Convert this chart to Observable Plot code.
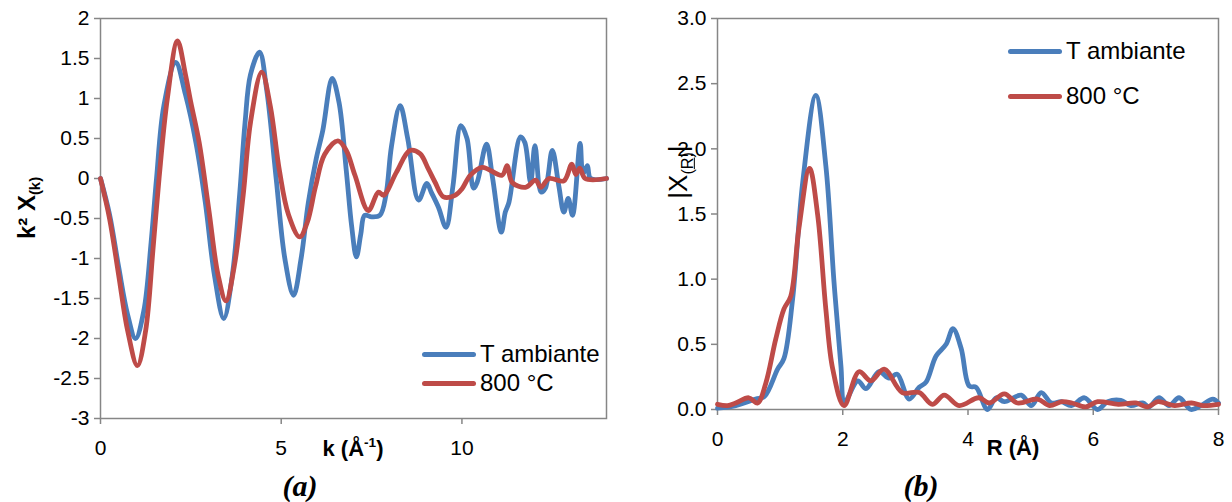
<!DOCTYPE html>
<html>
<head>
<meta charset="utf-8">
<script src="https://cdn.jsdelivr.net/npm/d3@7"></script>
<script src="https://cdn.jsdelivr.net/npm/@observablehq/plot@0.6"></script>
<style>
  html, body { margin: 0; padding: 0; background: #fff; }
  #wrap { position: relative; width: 1232px; height: 502px; overflow: hidden; font-family: "Liberation Sans", Arial, sans-serif; }
  .panel { position: absolute; top: 0; }
  .lbl { position: absolute; white-space: nowrap; color: #000; line-height: 1; }
  .rot { transform: translate(-50%, -50%) rotate(-90deg); }
  .ctr { transform: translate(-50%, -50%); }
  .cap { font-family: "Liberation Serif", "Times New Roman", serif; font-weight: bold; font-style: italic; font-size: 30px; }
  .leg { position: absolute; display: flex; align-items: center; font-size: 24px; height: 24px; white-space: nowrap; }
  .sw { display: inline-block; width: 54px; height: 5px; border-radius: 3px; margin-right: 4px; }
  sub, sup { font-size: 62%; }
</style>
</head>
<body>
<div id="wrap"></div>
<script>
// ---------- data ----------
const seriesNames = ["T ambiante", "800 °C"];
const seriesColors = ["#4a7ebb", "#be4b48"];

// (a) k² χ(k) vs k
const kT = [0,0.25,0.5,0.75,0.97,1.2,1.4,1.55,1.75,2.08,2.35,2.64,2.9,3.15,3.41,3.65,3.85,4.0,4.15,4.4,4.6,4.86,5.1,5.34,5.55,5.75,5.97,6.15,6.41,6.6,6.8,6.95,7.08,7.2,7.31,7.5,7.73,7.9,8.05,8.29,8.5,8.8,9.03,9.15,9.35,9.56,9.75,9.97,10.14,10.32,10.42,10.68,10.85,11.09,11.2,11.3,11.62,11.74,11.9,12.02,12.19,12.31,12.5,12.68,12.82,12.94,13.06,13.27,13.35,13.47,13.56,14];
const vT = [0,-0.45,-1.1,-1.7,-2.0,-1.65,-0.8,0.0,0.9,1.45,1.05,0.45,-0.3,-1.2,-1.75,-1.2,-0.2,0.7,1.3,1.58,1.1,0.0,-1.0,-1.46,-1.0,-0.3,0.25,0.6,1.25,0.95,0.1,-0.6,-0.98,-0.7,-0.46,-0.48,-0.46,-0.2,0.4,0.91,0.5,-0.27,-0.06,-0.17,-0.36,-0.61,-0.1,0.66,0.5,-0.12,-0.05,0.43,0.0,-0.67,-0.42,-0.3,0.52,0.45,-0.05,0.41,-0.17,-0.12,0.35,-0.09,-0.42,-0.25,-0.46,0.44,0.06,0.16,0.0,0];
const k8 = [0,0.25,0.5,0.75,1.02,1.25,1.45,1.62,1.85,2.13,2.35,2.5,2.73,3.0,3.25,3.47,3.7,3.95,4.15,4.46,4.7,4.95,5.2,5.51,5.72,5.95,6.2,6.57,6.8,7.04,7.41,7.69,7.83,8.19,8.56,8.84,9.07,9.26,9.49,9.81,10.0,10.23,10.56,11.11,11.25,11.39,11.76,12.04,12.18,12.41,12.82,13.04,13.15,13.26,13.41,14];
const v8 = [0,-0.5,-1.2,-1.9,-2.34,-1.9,-0.9,0.0,1.0,1.72,1.3,0.95,0.45,-0.4,-1.2,-1.53,-1.1,-0.2,0.7,1.33,0.9,0.1,-0.45,-0.73,-0.55,-0.1,0.3,0.47,0.35,0.04,-0.4,-0.17,-0.21,0.08,0.35,0.31,0.12,-0.05,-0.23,-0.21,-0.13,0.04,0.14,0.04,0.16,-0.05,-0.11,-0.02,-0.11,0.0,-0.03,0.18,0.05,0.13,0.0,0];

// (b) |χ(R)| vs R
const rT = [0,0.29,0.61,0.75,0.96,1.06,1.2,1.36,1.57,1.73,1.86,1.97,2.03,2.24,2.37,2.58,2.74,2.87,3.06,3.22,3.33,3.49,3.65,3.76,3.89,4.02,4.13,4.31,4.45,4.58,4.85,5.01,5.17,5.33,5.49,5.65,5.86,6.07,6.23,6.44,6.6,6.79,6.89,7.05,7.21,7.37,7.56,7.72,7.91,8];
const mT = [0.01,0.03,0.08,0.1,0.31,0.39,0.85,1.74,2.41,1.87,0.98,0.34,0.06,0.22,0.16,0.29,0.24,0.27,0.08,0.17,0.21,0.41,0.5,0.62,0.47,0.18,0.17,0.0,0.09,0.06,0.11,0.03,0.13,0.05,0.06,0.03,0.09,0.0,0.06,0.07,0.03,0.05,0.02,0.09,0.03,0.09,0.0,0.03,0.08,0.05];
const r8 = [0,0.16,0.29,0.5,0.64,0.77,0.93,1.06,1.17,1.3,1.47,1.6,1.73,1.84,2.02,2.26,2.45,2.66,2.95,3.22,3.43,3.62,3.86,4.17,4.34,4.58,4.79,5.11,5.3,5.5,5.66,5.88,6.07,6.4,6.68,6.87,7.03,7.3,7.57,7.75,8];
const m8 = [0.04,0.03,0.05,0.09,0.05,0.2,0.54,0.77,0.87,1.39,1.85,1.49,0.77,0.31,0.03,0.29,0.22,0.31,0.13,0.13,0.04,0.11,0.03,0.09,0.05,0.12,0.05,0.08,0.03,0.06,0.05,0.02,0.06,0.04,0.05,0.02,0.06,0.03,0.05,0.03,0.04];

const kTicks = [0, 5, 10];
const kYTicks = [-3,-2.5,-2,-1.5,-1,-0.5,0,0.5,1,1.5,2];
const rTicks = [0, 2, 4, 6, 8];
const rYTicks = [0,0.5,1,1.5,2,2.5,3];

// ---------- build ----------
const zip = (xs, ys) => xs.map((x, i) => ({x, y: ys[i]}));
const gray = "#868686";
const wrap = document.getElementById("wrap");

function panel({width, ml, mr, mt, mb, xDomain, yDomain, xTicks, yTicks, yFmt, series}) {
  return Plot.plot({
    width, height: 502,
    marginLeft: ml, marginRight: mr, marginTop: mt, marginBottom: mb,
    x: {domain: xDomain},
    y: {domain: yDomain},
    style: {fontFamily: "'Liberation Sans', Arial, sans-serif", fontSize: "21px", color: "#000", background: "transparent"},
    marks: [
      Plot.frame({stroke: gray, strokeWidth: 1.5}),
      Plot.axisX({ticks: xTicks, tickSize: 6, tickPadding: 16, stroke: gray, strokeWidth: 1.5, fill: "#000", label: null, tickFormat: d => String(d)}),
      Plot.axisY({ticks: yTicks, tickSize: 6, tickPadding: 5, stroke: gray, strokeWidth: 1.5, fill: "#000", label: null, tickFormat: yFmt}),
      ...series.map((s, i) => Plot.line(s, {x: "x", y: "y", stroke: seriesColors[i], strokeWidth: 4.8, curve: "catmull-rom", strokeLinejoin: "round", strokeLinecap: "round"}))
    ]
  });
}

const left = panel({
  width: 620, ml: 100, mr: 14, mt: 18, mb: 84,
  xDomain: [0, 14], yDomain: [-3, 2], xTicks: kTicks, yTicks: kYTicks,
  yFmt: d => String(d), series: [zip(kT, vT), zip(k8, v8)]
});
left.classList.add("panel"); left.style.left = "0px";
wrap.appendChild(left);

const right = panel({
  width: 612, ml: 97, mr: 14, mt: 18, mb: 93,
  xDomain: [0, 8], yDomain: [0, 3], xTicks: rTicks, yTicks: rYTicks,
  yFmt: d => d.toFixed(1), series: [zip(rT, mT), zip(r8, m8)]
});
right.classList.add("panel"); right.style.left = "620px";
wrap.appendChild(right);

// ---------- labels, legends, captions ----------
function addLabel(html, x, y, cls, extra) {
  const d = document.createElement("div");
  d.className = "lbl " + cls;
  d.innerHTML = html;
  d.style.left = x + "px"; d.style.top = y + "px";
  if (extra) Object.assign(d.style, extra);
  wrap.appendChild(d);
}
addLabel("k² X<sub>(k)</sub>", 29, 208, "rot", {fontWeight: "bold", fontSize: "24px"});
addLabel("k (Å<sup>-1</sup>)", 353, 448, "ctr", {fontWeight: "bold", fontSize: "22px"});
addLabel("|X<sub>(<u>R</u>)</sub>|", 680, 172, "rot", {fontSize: "26px"});
addLabel("R (Å)", 1013, 448, "ctr", {fontWeight: "bold", fontSize: "22px"});
addLabel("(a)", 300, 486, "ctr cap");
addLabel("(b)", 921, 486, "ctr cap");

function addLegend(x, y0, dy) {
  seriesNames.forEach((name, i) => {
    const d = document.createElement("div");
    d.className = "leg";
    d.style.left = x + "px"; d.style.top = (y0 + i * dy - 12) + "px";
    d.innerHTML = `<span class="sw" style="background:${seriesColors[i]}"></span><span>${name}</span>`;
    wrap.appendChild(d);
  });
}
addLegend(422, 354, 29);
addLegend(1008, 51, 45);
</script>
</body>
</html>
